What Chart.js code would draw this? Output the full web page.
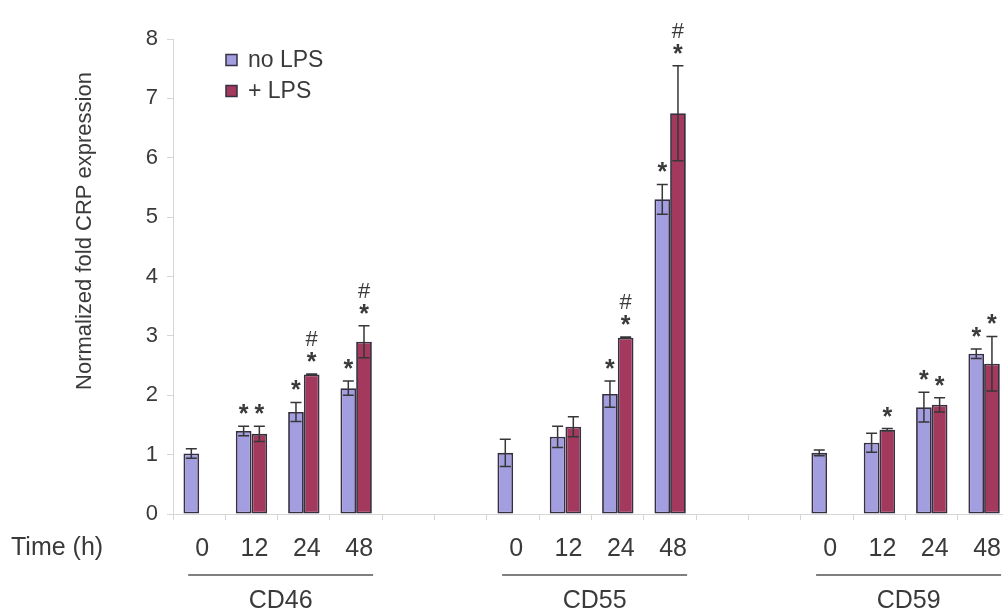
<!DOCTYPE html>
<html>
<head>
<meta charset="utf-8">
<script src="https://cdn.jsdelivr.net/npm/chart.js@4/dist/chart.umd.min.js"></script>
<style>
  html, body { margin: 0; padding: 0; background: #fff; overflow: hidden; }
  #wrap { width: 1012px; height: 615px; }
</style>
</head>
<body>
<div id="wrap"><canvas id="c" width="1012" height="615"></canvas></div>
<script>
// Time points per receptor, with two empty slots between receptor groups
const categories = ['0', '12', '24', '48', '', '', '0', '12', '24', '48', '', '', '0', '12', '24', '48'];
const groupNames = ['CD46', 'CD55', 'CD59'];
const groupStarts = [0, 6, 12];
const groupEnds = [3, 9, 15];

// Normalized fold CRP expression, mean and error
const noLps    = [1.02, 1.40, 1.72, 2.12, null, null, 1.03, 1.30, 2.02, 5.30, null, null, 1.03, 1.20, 1.80, 2.70];
const noLpsErr = [0.08, 0.08, 0.16, 0.12, null, null, 0.23, 0.18, 0.22, 0.25, null, null, 0.05, 0.16, 0.25, 0.08];
const lps      = [null, 1.35, 2.35, 2.90, null, null, null, 1.47, 2.97, 6.75, null, null, null, 1.42, 1.84, 2.53];
const lpsErr   = [null, 0.13, 0.01, 0.27, null, null, null, 0.17, 0.01, 0.80, null, null, null, 0.02, 0.12, 0.46];

// Significance marks, listed from the bar upwards
const noLpsMarks = ['', '*', '*', '*', '', '', '', '', '*', '*', '', '', '', '', '*', '*'];
const lpsMarks   = ['', '*', '*#', '*#', '', '', '', '', '*#', '*#', '', '', '', '*', '*', '*'];

const yTicks = [0, 1, 2, 3, 4, 5, 6, 7, 8];
const seriesNames = ['no LPS', '+ LPS'];

const FONT = '"Liberation Sans", Arial, sans-serif';
const INK = '#3a3a3a';
const BLUE = '#a29ee0';
const RED = '#a33a5e';
const EDGE = '#372f42';

const decorations = {
  id: 'decorations',
  afterDatasetsDraw(chart) {
    const ctx = chart.ctx;
    const ys = chart.scales.y;
    const sets = [[noLps, noLpsErr, noLpsMarks], [lps, lpsErr, lpsMarks]];

    ctx.save();
    sets.forEach(([vals, errs, marks], di) => {
      const meta = chart.getDatasetMeta(di);
      meta.data.forEach((bar, i) => {
        if (vals[i] == null) return;
        const cx = bar.x;
        const top = ys.getPixelForValue(vals[i] + errs[i]);
        const bot = ys.getPixelForValue(vals[i] - errs[i]);
        // error bar
        ctx.strokeStyle = '#363636';
        ctx.lineWidth = 1.5;
        ctx.beginPath();
        ctx.moveTo(cx, top); ctx.lineTo(cx, bot);
        ctx.moveTo(cx - 5.5, top); ctx.lineTo(cx + 5.5, top);
        ctx.moveTo(cx - 5.5, bot); ctx.lineTo(cx + 5.5, bot);
        ctx.stroke();
        // significance marks
        ctx.fillStyle = INK;
        ctx.textAlign = 'center';
        ctx.textBaseline = 'alphabetic';
        let cy = top - 18;
        for (const ch of marks[i]) {
          if (ch === '*') {
            ctx.font = 'bold 25px ' + FONT;
            ctx.fillText('*', cx, cy + 14);
            cy -= 26;
          } else {
            ctx.font = '22px ' + FONT;
            ctx.fillText('#', cx, cy + 16);
            cy -= 24;
          }
        }
      });
    });
    ctx.restore();
  },
  afterDraw(chart) {
    const ctx = chart.ctx;
    const xs = chart.scales.x;
    ctx.save();
    ctx.fillStyle = INK;

    // y axis title
    ctx.font = '22px ' + FONT;
    ctx.textAlign = 'center';
    ctx.textBaseline = 'middle';
    ctx.save();
    ctx.translate(85, 231);
    ctx.rotate(-Math.PI / 2);
    ctx.fillText('Normalized fold CRP expression', 0, 0);
    ctx.restore();

    // legend
    const colors = [BLUE, RED];
    const rows = [60, 91];
    ctx.font = '23px ' + FONT;
    ctx.textAlign = 'left';
    seriesNames.forEach((name, k) => {
      ctx.fillStyle = colors[k];
      ctx.fillRect(226, rows[k] - 5.5, 11, 11);
      ctx.strokeStyle = EDGE;
      ctx.lineWidth = 1.5;
      ctx.strokeRect(226, rows[k] - 5.5, 11, 11);
      ctx.fillStyle = INK;
      ctx.fillText(name, 248, rows[k] + 1);
    });

    // time row label
    ctx.font = '25px ' + FONT;
    ctx.textAlign = 'left';
    ctx.fillText('Time (h)', 11, 548);

    // receptor group rules and names
    ctx.textAlign = 'center';
    groupNames.forEach((name, g) => {
      const left = xs.getPixelForValue(groupStarts[g]) - 11;
      const right = xs.getPixelForValue(groupEnds[g]) + 17;
      ctx.strokeStyle = '#555';
      ctx.lineWidth = 1.5;
      ctx.beginPath();
      ctx.moveTo(left, 575); ctx.lineTo(right, 575);
      ctx.stroke();
      ctx.fillStyle = INK;
      ctx.fillText(name, (left + right) / 2, 601);
    });
    ctx.restore();
  }
};

new Chart(document.getElementById('c'), {
  type: 'bar',
  data: {
    labels: categories,
    datasets: [
      { label: seriesNames[0], data: noLps, backgroundColor: BLUE, borderColor: EDGE, borderWidth: 1.8, borderSkipped: false },
      { label: seriesNames[1], data: lps, backgroundColor: RED, borderColor: EDGE, borderWidth: 1.8, borderSkipped: false }
    ]
  },
  options: {
    responsive: false,
    animation: false,
    devicePixelRatio: 1,
    layout: { padding: { top: 39, right: 0, bottom: 0, left: 0 } },
    plugins: { legend: { display: false }, tooltip: { enabled: false } },
    datasets: { bar: { categoryPercentage: 0.6, barPercentage: 1.0 } },
    scales: {
      x: {
        grid: { drawOnChartArea: false, tickLength: 6, color: '#d6d6d6', offset: true },
        border: { color: '#d6d6d6' },
        ticks: { color: INK, font: { family: FONT, size: 25 }, padding: 14, labelOffset: 3, autoSkip: false, maxRotation: 0 },
        afterFit(scale) { scale.height = 101; }
      },
      y: {
        min: 0, max: 8,
        afterBuildTicks(scale) { scale.ticks = yTicks.map(v => ({ value: v })); },
        grid: { drawOnChartArea: false, tickLength: 6, color: '#d6d6d6' },
        border: { color: '#d6d6d6' },
        ticks: { color: INK, font: { family: FONT, size: 22 }, padding: 9 },
        afterFit(scale) { scale.width = 173; }
      }
    }
  },
  plugins: [decorations]
});
</script>
</body>
</html>
